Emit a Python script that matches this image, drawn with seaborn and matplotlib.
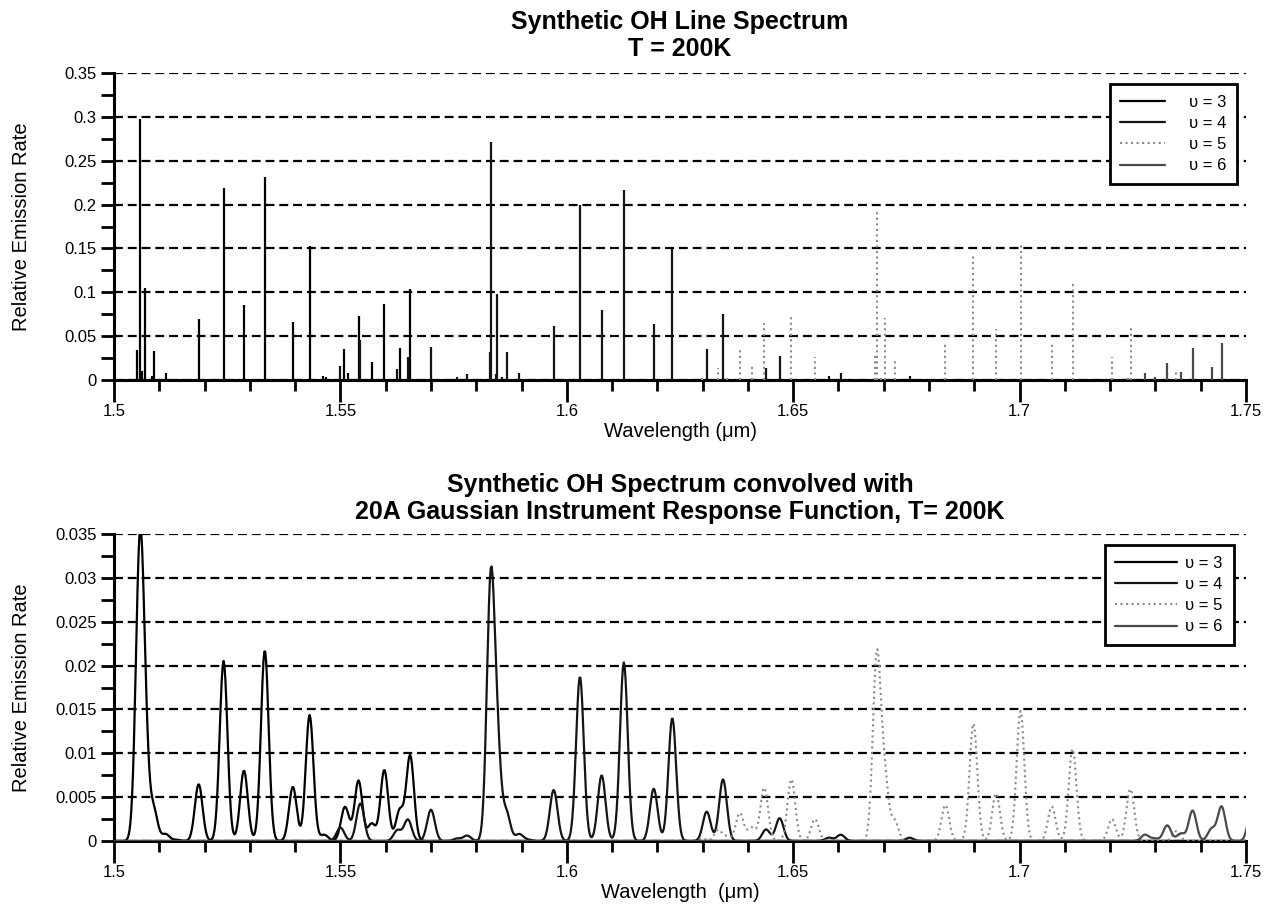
import numpy as np
import matplotlib
matplotlib.use("Agg")
import matplotlib.pyplot as plt
import seaborn as sns
from matplotlib.lines import Line2D
from matplotlib.ticker import MultipleLocator, FuncFormatter

# ---------------- data ----------------
band_labels = ["υ = 3", "υ = 4", "υ = 5", "υ = 6"]

v3_wl = [1.5051, 1.5057, 1.5062, 1.5068, 1.5085, 1.5088, 1.5114, 1.5138, 1.5187,
         1.5242, 1.5287, 1.5333, 1.5395, 1.5432, 1.5462, 1.5468, 1.5509, 1.5517,
         1.5540, 1.5569, 1.5597, 1.5631, 1.5654]
v3_h = [0.034, 0.297, 0.010, 0.1045, 0.004, 0.0334, 0.0084, 0.0015, 0.069,
        0.2186, 0.0855, 0.2315, 0.0658, 0.153, 0.005, 0.003, 0.0357, 0.0084,
        0.0733, 0.021, 0.0863, 0.0369, 0.1038]

v4_wl = [1.5500, 1.5544, 1.5626, 1.5649, 1.5700, 1.5758, 1.5780, 1.5830, 1.5832,
         1.5843, 1.5846, 1.5856, 1.5867, 1.5895, 1.5915, 1.5971, 1.6029, 1.6077,
         1.6126, 1.6192, 1.6233, 1.6309, 1.6345, 1.6440, 1.6470, 1.6579, 1.6605,
         1.6757]
v4_h = [0.0163, 0.0456, 0.013, 0.026, 0.038, 0.003, 0.0065, 0.032, 0.2717,
        0.007, 0.098, 0.003, 0.0323, 0.0084, 0.0015, 0.062, 0.1996, 0.0798,
        0.2167, 0.0635, 0.1494, 0.0357, 0.0749, 0.014, 0.0277, 0.004, 0.0076,
        0.004]

v5_wl = [1.6298, 1.6334, 1.6354, 1.6382, 1.6408, 1.6436, 1.6496, 1.6548, 1.6681,
         1.6685, 1.6695, 1.6702, 1.6724, 1.6836, 1.6898, 1.6948, 1.7002, 1.7071,
         1.7117, 1.7204, 1.7240, 1.7245, 1.7346]
v5_h = [0.003, 0.0133, 0.005, 0.034, 0.0163, 0.0646, 0.0749, 0.0266, 0.03,
        0.194, 0.005, 0.071, 0.024, 0.0437, 0.1426, 0.0578, 0.1578, 0.0418,
        0.1122, 0.0266, 0.005, 0.059, 0.012]

v6_wl = [1.7277, 1.7298, 1.7326, 1.7356, 1.7382, 1.7424, 1.7446, 1.7513]
v6_h = [0.0076, 0.003, 0.019, 0.009, 0.037, 0.0144, 0.0418, 0.04]

irf_fwhm_um = 0.0020      # 20 A Gaussian instrument response
grid_step_um = 0.0002     # 2 A sampling of the synthetic spectrum

bands = [(v3_wl, v3_h), (v4_wl, v4_h), (v5_wl, v5_h), (v6_wl, v6_h)]
styles = [
    dict(color="black", linestyle="-", linewidth=1.6),
    dict(color="#151515", linestyle="-", linewidth=1.6),
    dict(color="#8a8a8a", linestyle=":", linewidth=1.5),
    dict(color="#4a4a4a", linestyle="-", linewidth=1.6),
]

# ---------------- figure ----------------
sns.set_theme(style="ticks")
plt.rcParams["font.family"] = ["Liberation Sans", "DejaVu Sans"]
plt.rcParams["text.color"] = "black"
plt.rcParams["axes.labelcolor"] = "black"

W, H = 1266, 918
fig = plt.figure(figsize=(W / 100, H / 100), dpi=100)
ax1 = fig.add_axes([114 / W, 1 - 380 / H, 1132 / W, 307 / H])
ax2 = fig.add_axes([114 / W, 1 - 841 / H, 1132 / W, 307 / H])

# top: line spectrum
for (wl, h), st in zip(bands, styles):
    ax1.vlines(wl, 0, h, colors=st["color"], linestyles=st["linestyle"],
               linewidth=st["linewidth"], zorder=3)

# bottom: convolved spectrum
grid = np.arange(1.49, 1.7602, grid_step_um)
sigma = irf_fwhm_um / (2 * np.sqrt(2 * np.log(2)))
norm = grid_step_um / (sigma * np.sqrt(2 * np.pi))
for (wl, h), st in zip(bands, styles):
    wl = np.asarray(wl)[:, None]
    h = np.asarray(h)[:, None]
    conv = (h * np.exp(-0.5 * ((grid[None, :] - wl) / sigma) ** 2)).sum(axis=0) * norm
    sns.lineplot(x=grid, y=conv, ax=ax2, estimator=None, sort=False, zorder=3,
                 legend=False, **st)

fmt = FuncFormatter(lambda v, p: f"{v:g}")
for ax, ymax, ymaj, ymin in [(ax1, 0.35, 0.05, 0.025), (ax2, 0.035, 0.005, 0.0025)]:
    ax.set_xlim(1.5, 1.75)
    ax.set_ylim(0, ymax)
    ax.xaxis.set_major_locator(MultipleLocator(0.05))
    ax.xaxis.set_minor_locator(MultipleLocator(0.01))
    ax.yaxis.set_major_locator(MultipleLocator(ymaj))
    ax.yaxis.set_minor_locator(MultipleLocator(ymin))
    ax.xaxis.set_major_formatter(fmt)
    ax.yaxis.set_major_formatter(fmt)
    ax.tick_params(axis="x", which="major", length=15.5, width=2, direction="out",
                   labelsize=12, pad=2, color="black", labelcolor="black")
    ax.tick_params(axis="x", which="minor", length=7.7, width=2, direction="out",
                   color="black")
    ax.tick_params(axis="y", which="both", length=9.5, width=2, direction="out",
                   labelsize=12, pad=3, color="black", labelcolor="black")
    for s in ["top", "right"]:
        ax.spines[s].set_visible(False)
    for s in ["left", "bottom"]:
        ax.spines[s].set_linewidth(2.2)
        ax.spines[s].set_color("black")
    ax.yaxis.grid(True, which="major", color="black", linestyle=(0, (4, 2.2)),
                  linewidth=1.6)
    ax.set_axisbelow(True)
    ax.set_facecolor("white")
    ax.set_ylabel("Relative Emission Rate", fontsize=14.5, color="black")
    ax.yaxis.set_label_coords(-0.0735, 0.5)

ax1.set_xlabel("Wavelength (μm)", fontsize=14.5, color="black", labelpad=2)
ax2.set_xlabel("Wavelength  (μm)", fontsize=14.5, color="black", labelpad=2)

ax1.set_title("Synthetic OH Line Spectrum\nT = 200K", fontsize=18, color="black",
              fontweight="bold", pad=12, linespacing=1.15)
ax2.set_title("Synthetic OH Spectrum convolved with\n"
              "20A Gaussian Instrument Response Function, T= 200K", fontsize=18,
              color="black", fontweight="bold", pad=11, linespacing=1.15)

handles = [Line2D([], [], **st) for st in styles]
for ax, hl, htp, anchor in [(ax1, 2.7, 1.4, (0.992, 0.964)),
                            (ax2, 3.7, 0.5, (0.989, 0.964))]:
    leg = ax.legend(handles, band_labels, loc="upper right",
                    bbox_to_anchor=anchor, frameon=True, fancybox=False,
                    edgecolor="black", framealpha=1, fontsize=12,
                    handlelength=hl, handletextpad=htp, borderpad=0.65,
                    labelspacing=0.37, borderaxespad=0, labelcolor="black")
    leg.get_frame().set_linewidth(2)

fig.savefig("out.png", dpi=100, facecolor="white")
